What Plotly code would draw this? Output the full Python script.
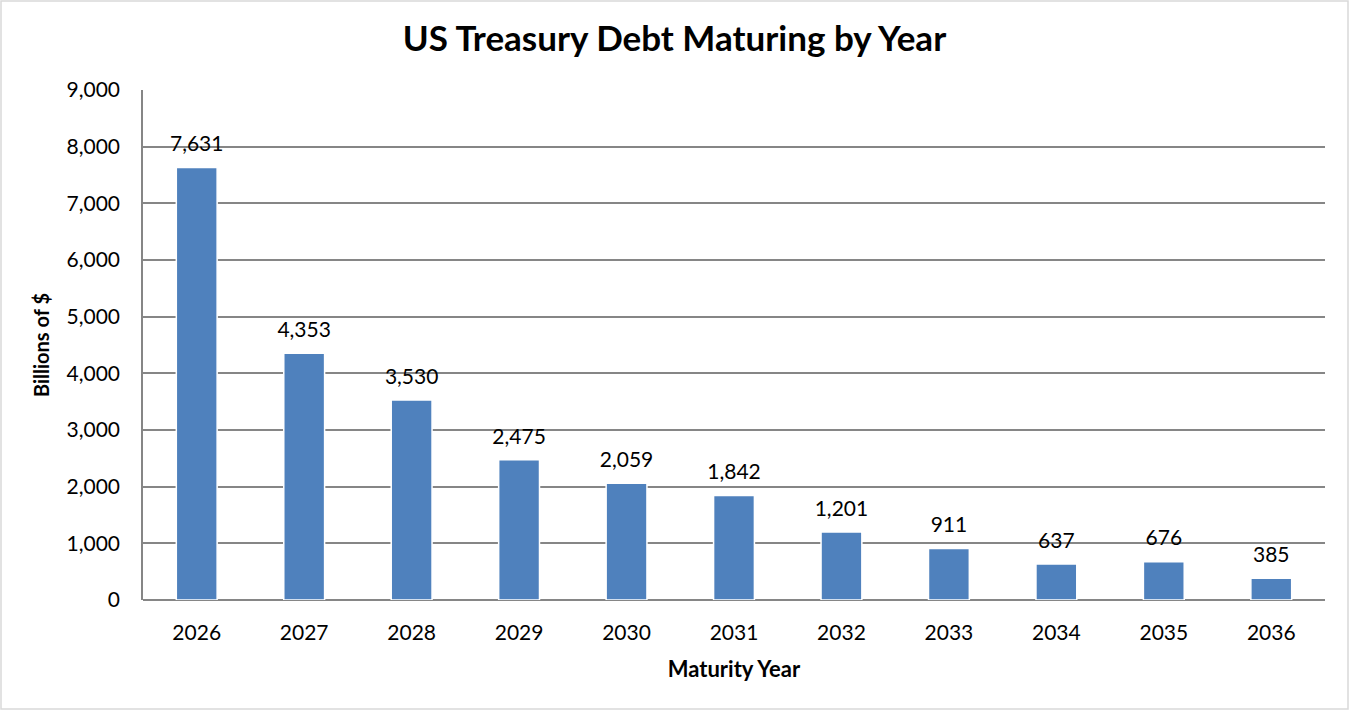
import plotly.graph_objs as go

years = ["2026", "2027", "2028", "2029", "2030", "2031", "2032", "2033", "2034", "2035", "2036"]
debt_billions = [7631, 4353, 3530, 2475, 2059, 1842, 1201, 911, 637, 676, 385]
y_ticks = [0, 1000, 2000, 3000, 4000, 5000, 6000, 7000, 8000, 9000]

bar_color = "#4F81BD"
grid_color = "#868686"
font_name = "Lato, Carlito, Calibri, sans-serif"

W, H = 1349, 710
ml, mr, mt, mb = 143, 24, 90, 110

bars = go.Bar(
    x=years,
    y=debt_billions,
    marker=dict(color=bar_color, line=dict(color="white", width=1.5)),
    hoverinfo="x+y",
)

# value labels above each bar (invisible marker gives the gap)
labels = go.Scatter(
    x=years,
    y=debt_billions,
    mode="markers+text",
    text=["{:,}".format(v) for v in debt_billions],
    textposition="top center",
    textfont=dict(size=21, color="black", family=font_name),
    marker=dict(size=16, opacity=0),
    hoverinfo="skip",
)

fig = go.Figure(data=[bars, labels])

# light border round the whole chart
pw = W - ml - mr
ph = H - mt - mb
fig.add_shape(
    type="rect", xref="paper", yref="paper",
    x0=-(ml - 1) / pw, x1=1 + (mr - 1) / pw,
    y0=-(mb - 1) / ph, y1=1 + (mt - 1) / ph,
    line=dict(color="#D9D9D9", width=1.5),
)

fig.update_layout(
    width=W, height=H,
    margin=dict(l=ml, r=mr, t=mt, b=mb),
    plot_bgcolor="white",
    paper_bgcolor="white",
    bargap=0.62,
    showlegend=False,
    font=dict(family=font_name, color="black"),
    title=dict(
        text="<b>US Treasury Debt Maturing by Year</b>",
        x=0.5, xanchor="center", y=0.945, yanchor="middle",
        font=dict(size=35, color="black", family=font_name),
    ),
    xaxis=dict(
        type="category",
        range=[-0.5, len(years) - 0.5],
        title=dict(text="<b>Maturity Year</b>", font=dict(size=22), standoff=18),
        tickfont=dict(size=21),
        showgrid=False,
        ticks="",
        showline=False,
        ticklabelstandoff=18,
    ),
    yaxis=dict(
        title=dict(text="<b>Billions of $</b>", font=dict(size=20), standoff=12),
        range=[0, 9000],
        tickvals=y_ticks,
        tickformat=",",
        tickfont=dict(size=21),
        showgrid=True, gridcolor=grid_color, gridwidth=1.5,
        zeroline=True, zerolinecolor=grid_color, zerolinewidth=1.5,
        showline=True, linecolor=grid_color, linewidth=1.5,
        ticks="",
        ticklabelstandoff=17,
    ),
)

fig.write_html("out.html", config=dict(displayModeBar=False),
               post_script="document.body.style.margin='0';")
